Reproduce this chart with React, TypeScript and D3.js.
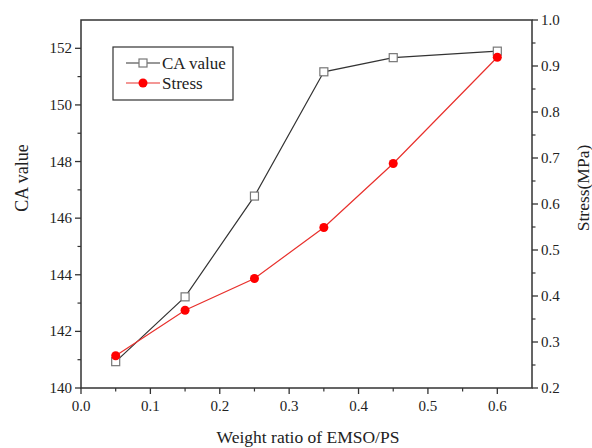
import React from "react";
import * as d3 from "d3";

const ratios = [0.05, 0.15, 0.25, 0.35, 0.45, 0.6];
const caValues = [140.93, 143.22, 146.78, 151.17, 151.67, 151.9];
const stressValues = [0.27, 0.369, 0.438, 0.549, 0.688, 0.919];
const xTicks = [0, 0.1, 0.2, 0.3, 0.4, 0.5, 0.6];
const xMinor = [0.05, 0.15, 0.25, 0.35, 0.45, 0.55];
const leftTicks = [140, 142, 144, 146, 148, 150, 152];
const leftMinor = [141, 143, 145, 147, 149, 151];
const rightTicks = [0.2, 0.3, 0.4, 0.5, 0.6, 0.7, 0.8, 0.9, 1.0];
const rightMinor = [0.25, 0.35, 0.45, 0.55, 0.65, 0.75, 0.85, 0.95];

const W = 592, H = 448;
const L = 81, R = 532, T = 20, B = 388;
const font = "'Liberation Serif', 'Times New Roman', serif";
const axisColor = "#333";

export default function App() {
  const x = d3.scaleLinear().domain([0, 0.65]).range([L, R]);
  const yL = d3.scaleLinear().domain([140, 153]).range([B, T]);
  const yR = d3.scaleLinear().domain([0.2, 1.0]).range([B, T]);
  const caLine = d3.line<number>().x((_, i) => x(ratios[i])).y((d) => yL(d));
  const stLine = d3.line<number>().x((_, i) => x(ratios[i])).y((d) => yR(d));

  return (
    <svg width={W} height={H} style={{ position: "absolute", left: 0, top: 0, background: "#fff" }}>
      <rect x={0} y={0} width={W} height={H} fill="#fff" />
      {/* frame */}
      <rect x={L} y={T} width={R - L} height={B - T} fill="none" stroke={axisColor} strokeWidth={1.5} />
      {/* bottom ticks */}
      {xTicks.map((t) => (
        <g key={"xt" + t}>
          <line x1={x(t)} x2={x(t)} y1={B} y2={B + 6} stroke={axisColor} strokeWidth={1.3} />
          <text x={x(t)} y={B + 23} textAnchor="middle" fontFamily={font} fontSize={15} fill="#222">
            {d3.format(".1f")(t)}
          </text>
        </g>
      ))}
      {xMinor.map((t) => (
        <line key={"xm" + t} x1={x(t)} x2={x(t)} y1={B} y2={B + 3.5} stroke={axisColor} strokeWidth={1.2} />
      ))}
      {/* left ticks */}
      {leftTicks.map((t) => (
        <g key={"lt" + t}>
          <line x1={L - 6} x2={L} y1={yL(t)} y2={yL(t)} stroke={axisColor} strokeWidth={1.3} />
          <text x={L - 9} y={yL(t) + 5} textAnchor="end" fontFamily={font} fontSize={15} fill="#222">
            {t}
          </text>
        </g>
      ))}
      {leftMinor.map((t) => (
        <line key={"lm" + t} x1={L - 3.5} x2={L} y1={yL(t)} y2={yL(t)} stroke={axisColor} strokeWidth={1.2} />
      ))}
      {/* right ticks */}
      {rightTicks.map((t) => (
        <g key={"rt" + t}>
          <line x1={R} x2={R + 6} y1={yR(t)} y2={yR(t)} stroke={axisColor} strokeWidth={1.3} />
          <text x={R + 9} y={yR(t) + 5} textAnchor="start" fontFamily={font} fontSize={15} fill="#222">
            {d3.format(".1f")(t)}
          </text>
        </g>
      ))}
      {rightMinor.map((t) => (
        <line key={"rm" + t} x1={R} x2={R + 3.5} y1={yR(t)} y2={yR(t)} stroke={axisColor} strokeWidth={1.2} />
      ))}
      {/* axis titles */}
      <text x={308} y={443} textAnchor="middle" fontFamily={font} fontSize={17.5} fill="#222">
        Weight ratio of EMSO/PS
      </text>
      <text transform={`translate(28,178) rotate(-90)`} textAnchor="middle" fontFamily={font} fontSize={18} fill="#222">
        CA value
      </text>
      <text transform={`translate(589,188) rotate(-90)`} textAnchor="middle" fontFamily={font} fontSize={17.5} fill="#222">
        Stress(MPa)
      </text>
      {/* series */}
      <path d={caLine(caValues) || ""} fill="none" stroke="#333" strokeWidth={1.2} />
      <path d={stLine(stressValues) || ""} fill="none" stroke="#e8302c" strokeWidth={1.2} />
      {caValues.map((v, i) => (
        <rect key={"ca" + i} x={x(ratios[i]) - 4} y={yL(v) - 4} width={8} height={8} fill="#fff" stroke="#777" strokeWidth={1.2} />
      ))}
      {stressValues.map((v, i) => (
        <circle key={"st" + i} cx={x(ratios[i])} cy={yR(v)} r={4.5} fill="#f00" />
      ))}
      {/* legend */}
      <rect x={113} y={47} width={120} height={53} fill="#fff" stroke="#333" strokeWidth={1.2} />
      <line x1={126} x2={160} y1={63} y2={63} stroke="#333" strokeWidth={1.2} />
      <rect x={139} y={59} width={8} height={8} fill="#fff" stroke="#777" strokeWidth={1.2} />
      <text x={162} y={68.5} fontFamily={font} fontSize={17} fill="#222">CA value</text>
      <line x1={126} x2={160} y1={83} y2={83} stroke="#e8302c" strokeWidth={1.2} />
      <circle cx={143} cy={83} r={4.5} fill="#f00" />
      <text x={162} y={88.5} fontFamily={font} fontSize={17} fill="#222">Stress</text>
    </svg>
  );
}
